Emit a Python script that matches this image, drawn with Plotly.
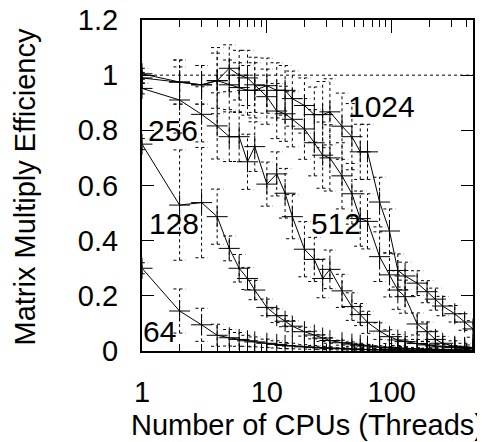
import math
import plotly.graph_objects as go

# number of CPUs (threads)
cpus = [1, 2, 3, 4, 5, 6, 7, 8, 10, 12, 14, 16, 20, 24, 28, 32, 40, 48, 56, 64,
        80, 96, 112, 128, 160, 192, 224, 256, 320, 384, 448]

# efficiency per matrix size
eff_64 = [0.30, 0.145, 0.095, 0.057, 0.048, 0.042, 0.037, 0.033, 0.028, 0.024, 0.020,
          0.018, 0.015, 0.013, 0.011, 0.010, 0.008, 0.007, 0.006, 0.005, 0.004, 0.0035,
          0.003, 0.0028, 0.0024, 0.002, 0.0018, 0.0016, 0.0013, 0.0011, 0.001]
eff_128 = [0.75, 0.529, 0.538, 0.487, 0.372, 0.30, 0.263, 0.221, 0.158, 0.128, 0.108,
           0.09, 0.07, 0.058, 0.047, 0.038, 0.03, 0.025, 0.021, 0.018, 0.014, 0.012,
           0.010, 0.009, 0.007, 0.006, 0.005, 0.0045, 0.0035, 0.003, 0.0025]
eff_256 = [0.952, 0.91, 0.858, 0.816, 0.777, 0.777, 0.686, 0.741, 0.605, 0.642, 0.572,
           0.487, 0.369, 0.332, 0.263, 0.296, 0.218, 0.161, 0.132, 0.104, 0.072, 0.052,
           0.04, 0.034, 0.027, 0.022, 0.018, 0.015, 0.012, 0.010, 0.009]
eff_512 = [1.005, 0.975, 0.965, 0.98, 1.025, 1.0, 0.99, 0.965, 0.922, 0.87, 0.86,
           0.84, 0.805, 0.755, 0.71, 0.70, 0.635, 0.57, 0.48, 0.47, 0.342, 0.276,
           0.221, 0.197, 0.098, 0.07, 0.042, 0.028, 0.017, 0.013, 0.01]
eff_1024 = [0.99, 0.975, 0.965, 0.98, 0.965, 0.955, 0.945, 0.945, 0.962, 0.945, 0.945,
            0.915, 0.89, 0.857, 0.857, 0.867, 0.815, 0.777, 0.722, 0.722, 0.54, 0.435,
            0.292, 0.272, 0.246, 0.215, 0.188, 0.163, 0.135, 0.105, 0.08]

# error bar half-widths
err_64 = [0.02, 0.08, 0.06, 0.04, 0.03, 0.025, 0.02, 0.018, 0.015, 0.013, 0.011, 0.01,
          0.008, 0.007, 0.006, 0.005, 0.004, 0.004, 0.003, 0.003, 0.003, 0.002, 0.002,
          0.002, 0.002, 0.002, 0.002, 0.002, 0.002, 0.002, 0.002]
err_128 = [0.02, 0.2, 0.2, 0.1, 0.045, 0.05, 0.04, 0.035, 0.03, 0.025, 0.02, 0.02,
           0.016, 0.014, 0.012, 0.01, 0.009, 0.008, 0.007, 0.006, 0.005, 0.004, 0.004,
           0.003, 0.003, 0.003, 0.002, 0.002, 0.002, 0.002, 0.002]
err_256 = [0.02, 0.12, 0.1, 0.12, 0.09, 0.09, 0.1, 0.09, 0.08, 0.08, 0.09, 0.08, 0.1,
           0.08, 0.07, 0.07, 0.06, 0.05, 0.04, 0.04, 0.03, 0.025, 0.02, 0.018, 0.015,
           0.012, 0.01, 0.009, 0.008, 0.007, 0.006]
err_512 = [0.02, 0.08, 0.07, 0.1, 0.085, 0.09, 0.1, 0.1, 0.1, 0.1, 0.1, 0.1, 0.11,
           0.12, 0.12, 0.12, 0.12, 0.11, 0.1, 0.1, 0.09, 0.08, 0.07, 0.06, 0.04,
           0.035, 0.03, 0.025, 0.02, 0.015, 0.012]
err_1024 = [0.02, 0.08, 0.07, 0.12, 0.09, 0.09, 0.09, 0.1, 0.1, 0.1, 0.09, 0.1, 0.1,
            0.1, 0.12, 0.12, 0.12, 0.12, 0.1, 0.1, 0.09, 0.08, 0.06, 0.05, 0.045,
            0.04, 0.04, 0.035, 0.03, 0.03, 0.03]

sizes = ["64", "128", "256", "512", "1024"]
series = [eff_64, eff_128, eff_256, eff_512, eff_1024]
errors = [err_64, err_128, err_256, err_512, err_1024]

# where the size labels sit (data coords)
label_x = [1.39, 1.80, 1.77, 35.6, 83.0]
label_y = [0.069, 0.464, 0.798, 0.464, 0.885]

FONT = "Liberation Sans, Arial, Helvetica, sans-serif"
CAP = 1.12  # cap half width as a factor on the log axis


def err_path(xs, ys, es):
    ex, ey = [], []
    for x, y, e in zip(xs, ys, es):
        lo, hi = y - e, y + e
        ex += [x, x, None, x / CAP, x * CAP, None, x / CAP, x * CAP, None]
        ey += [lo, hi, None, lo, lo, None, hi, hi, None]
    return ex, ey


fig = go.Figure()

# dashed error bars first, under the lines
for name, ys, es in zip(sizes, series, errors):
    ex, ey = err_path(cpus, ys, es)
    fig.add_trace(go.Scatter(x=ex, y=ey, mode="lines", showlegend=False,
                             line=dict(color="black", width=1, dash="3px,3px"),
                             hoverinfo="skip"))

for name, ys in zip(sizes, series):
    fig.add_trace(go.Scatter(x=cpus, y=ys, mode="lines+markers", name=name,
                             showlegend=False,
                             line=dict(color="black", width=1),
                             marker=dict(symbol="cross-thin", size=15,
                                         line=dict(color="black", width=1))))

# ideal efficiency
fig.add_shape(type="line", xref="paper", x0=0, x1=1, yref="y", y0=1, y1=1,
              line=dict(color="black", width=1, dash="dot"))

# log axis: annotation x is given in log10 units
for name, lx, ly in zip(sizes, label_x, label_y):
    fig.add_annotation(x=math.log10(lx), y=ly, text=name, showarrow=False,
                       font=dict(size=30, color="black", family=FONT))

# axis titles
fig.add_annotation(x=0.5, y=0, xref="paper", yref="paper", yshift=-74,
                   xanchor="center", yanchor="middle", showarrow=False,
                   text="Number of CPUs (Threads)",
                   font=dict(size=29, color="black", family=FONT))
fig.add_annotation(x=0, y=0.5, xref="paper", yref="paper", xshift=-118, yshift=-2,
                   xanchor="center", yanchor="middle", showarrow=False, textangle=-90,
                   text="Matrix Multiply Efficiency",
                   font=dict(size=29, color="black", family=FONT))

minor_vals = [m * d for d in [1, 10, 100] for m in range(2, 10) if m * d < 448]

fig.update_xaxes(type="log", range=[0, math.log10(448)], tickvals=[1, 10, 100],
                 ticktext=["1", "10", "100"],
                 ticks="inside", ticklen=13, tickwidth=1, tickcolor="black",
                 minor=dict(tickvals=minor_vals, ticks="inside", ticklen=7,
                            tickwidth=1, tickcolor="black"),
                 showline=True, linewidth=2, linecolor="black", mirror="allticks",
                 showgrid=False, zeroline=False, ticklabelstandoff=14, automargin=False,
                 ticklabeloverflow="allow",
                 tickfont=dict(size=29, family=FONT, color="black"))
fig.update_yaxes(range=[0, 1.2], tickvals=[0, 0.2, 0.4, 0.6, 0.8, 1, 1.2],
                 ticks="inside", ticklen=12, tickwidth=1, tickcolor="black",
                 showline=True, linewidth=2, linecolor="black", mirror="allticks",
                 showgrid=False, zeroline=False, ticklabelstandoff=16, automargin=False,
                 ticklabeloverflow="allow",
                 tickfont=dict(size=29, family=FONT, color="black"))

# the page body adds 8px on the top and left, so margins are shifted by that
fig.update_layout(width=485, height=442, plot_bgcolor="white", paper_bgcolor="white",
                  margin=dict(l=134, r=20, t=12, b=99, autoexpand=False),
                  showlegend=False)

fig.write_html("out.html")
